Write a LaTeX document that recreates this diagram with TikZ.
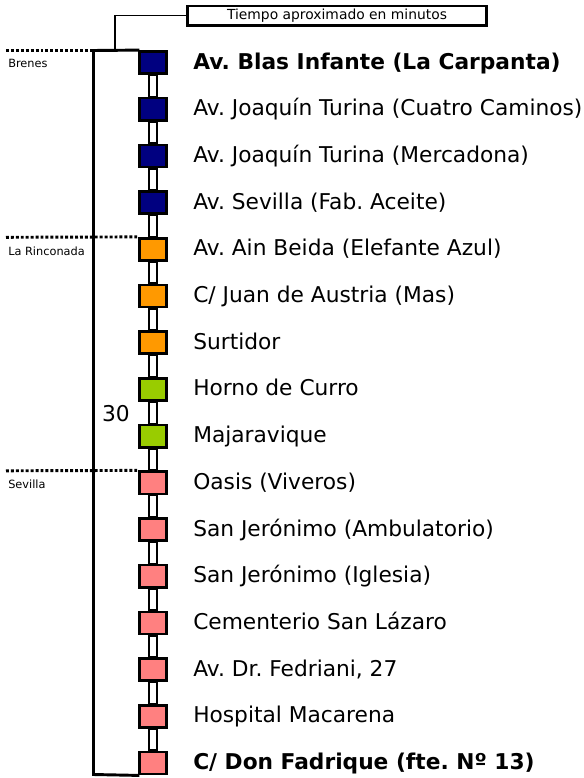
\documentclass[tikz,border=0pt]{standalone}
\usepackage{fontspec}
\setmainfont{DejaVu Sans}
\definecolor{cnavy}{RGB}{0,0,128}
\definecolor{corange}{RGB}{255,153,0}
\definecolor{cgreen}{RGB}{153,204,0}
\definecolor{cpink}{RGB}{255,128,128}
\frenchspacing
\begin{document}
\begin{tikzpicture}[x=0.75pt,y=-0.75pt,
  stn/.style={draw=black, line width=2pt, minimum width=20.6pt, minimum height=16.6pt, inner sep=0pt},
  link/.style={draw=black, fill=white, line width=1.8pt},
  lab/.style={anchor=base west, inner sep=0pt, font=\fontsize{16.3}{19}\selectfont},
  blab/.style={lab, font=\fontsize{16.3}{19}\selectfont\bfseries},
  town/.style={anchor=west, inner sep=0pt, font=\fontsize{8.5}{10}\selectfont},
  divider/.style={line width=2.2pt, dash pattern=on 2.2pt off 1.5pt},
  bracket/.style={line width=2.2pt, line cap=rect},
  leader/.style={line width=0.8pt},
  titlebox/.style={draw=black, line width=1.9pt, minimum width=224pt, minimum height=14.6pt, inner sep=0pt, font=\fontsize{10.4}{12}\selectfont}]
\useasboundingbox (0,0) rectangle (584,778);

% stations
\node[stn,fill=cnavy]   (s1)  at (153,62.5) {};
\node[stn,fill=cnavy]   (s2)  at (153,109.2) {};
\node[stn,fill=cnavy]   (s3)  at (153,155.9) {};
\node[stn,fill=cnavy]   (s4)  at (153,202.6) {};
\node[stn,fill=corange] (s5)  at (153,249.3) {};
\node[stn,fill=corange] (s6)  at (153,296.0) {};
\node[stn,fill=corange] (s7)  at (153,342.7) {};
\node[stn,fill=cgreen]  (s8)  at (153,389.4) {};
\node[stn,fill=cgreen]  (s9)  at (153,436.1) {};
\node[stn,fill=cpink]   (s10) at (153,482.8) {};
\node[stn,fill=cpink]   (s11) at (153,529.5) {};
\node[stn,fill=cpink]   (s12) at (153,576.2) {};
\node[stn,fill=cpink]   (s13) at (153,622.9) {};
\node[stn,fill=cpink]   (s14) at (153,669.6) {};
\node[stn,fill=cpink]   (s15) at (153,716.3) {};
\node[stn,fill=cpink]   (s16) at (153,763.0) {};

% connectors
\foreach \a/\b in {1/2,2/3,3/4,4/5,5/6,6/7,7/8,8/9,9/10,10/11,11/12,12/13,13/14,14/15,15/16}
  \draw[link] ([xshift=-3.2pt]s\a.south) rectangle ([xshift=3.2pt]s\b.north);

% station names
\node[blab] (t1)  at (193,69.0) {Av. Blas Infante (La Carpanta)};
\node[lab]  (t2)  at (193,115.7) {Av. Joaquín Turina (Cuatro Caminos)};
\node[lab]  (t3)  at (193,162.4) {Av. Joaquín Turina (Mercadona)};
\node[lab]  (t4)  at (193,209.1) {Av. Sevilla (Fab. Aceite)};
\node[lab]  (t5)  at (193,255.8) {Av. Ain Beida (Elefante Azul)};
\node[lab]  (t6)  at (193,302.5) {C/ Juan de Austria (Mas)};
\node[lab]  (t7)  at (193,349.2) {Surtidor};
\node[lab]  (t8)  at (193,395.9) {Horno de Curro};
\node[lab]  (t9)  at (193,442.6) {Majaravique};
\node[lab]  (t10) at (193,489.3) {Oasis (Viveros)};
\node[lab]  (t11) at (193,536.0) {San Jerónimo (Ambulatorio)};
\node[lab]  (t12) at (193,582.7) {San Jerónimo (Iglesia)};
\node[lab]  (t13) at (193,629.4) {Cementerio San Lázaro};
\node[lab]  (t14) at (193,676.1) {Av. Dr. Fedriani, 27};
\node[lab]  (t15) at (193,722.8) {Hospital Macarena};
\node[blab] (t16) at (193,769.5) {C/ Don Fadrique (fte. Nº 13)};

% bracket
\coordinate (btl) at (93.5,50.5);
\coordinate (bbl) at (93.5,774.5);
\draw[bracket] (s1.north west) -- (btl) -- (bbl) -- (s16.south west);
\node[lab, anchor=center] (n30) at (116,414) {30};

% title box and leader
\node[titlebox] (title) at (337,15.5) {Tiempo aproximado en minutos};
\coordinate (bt) at (115,50.5);
\draw[leader] (title.west) -| (bt);

% dividers
\coordinate (d1a) at (6,50.5);
\coordinate (d2a) at (6,237.3);
\coordinate (d3a) at (6,470.8);
\draw[divider] (d1a) -- (btl);
\draw[divider] (d2a) -- (s5.north west);
\draw[divider] (d3a) -- (s10.north west);
\node[town] (brenes) at (8,63) {Brenes};
\node[town] (rinc) at (8,251) {La Rinconada};
\node[town] (sev) at (8,484) {Sevilla};
\end{tikzpicture}
\end{document}
